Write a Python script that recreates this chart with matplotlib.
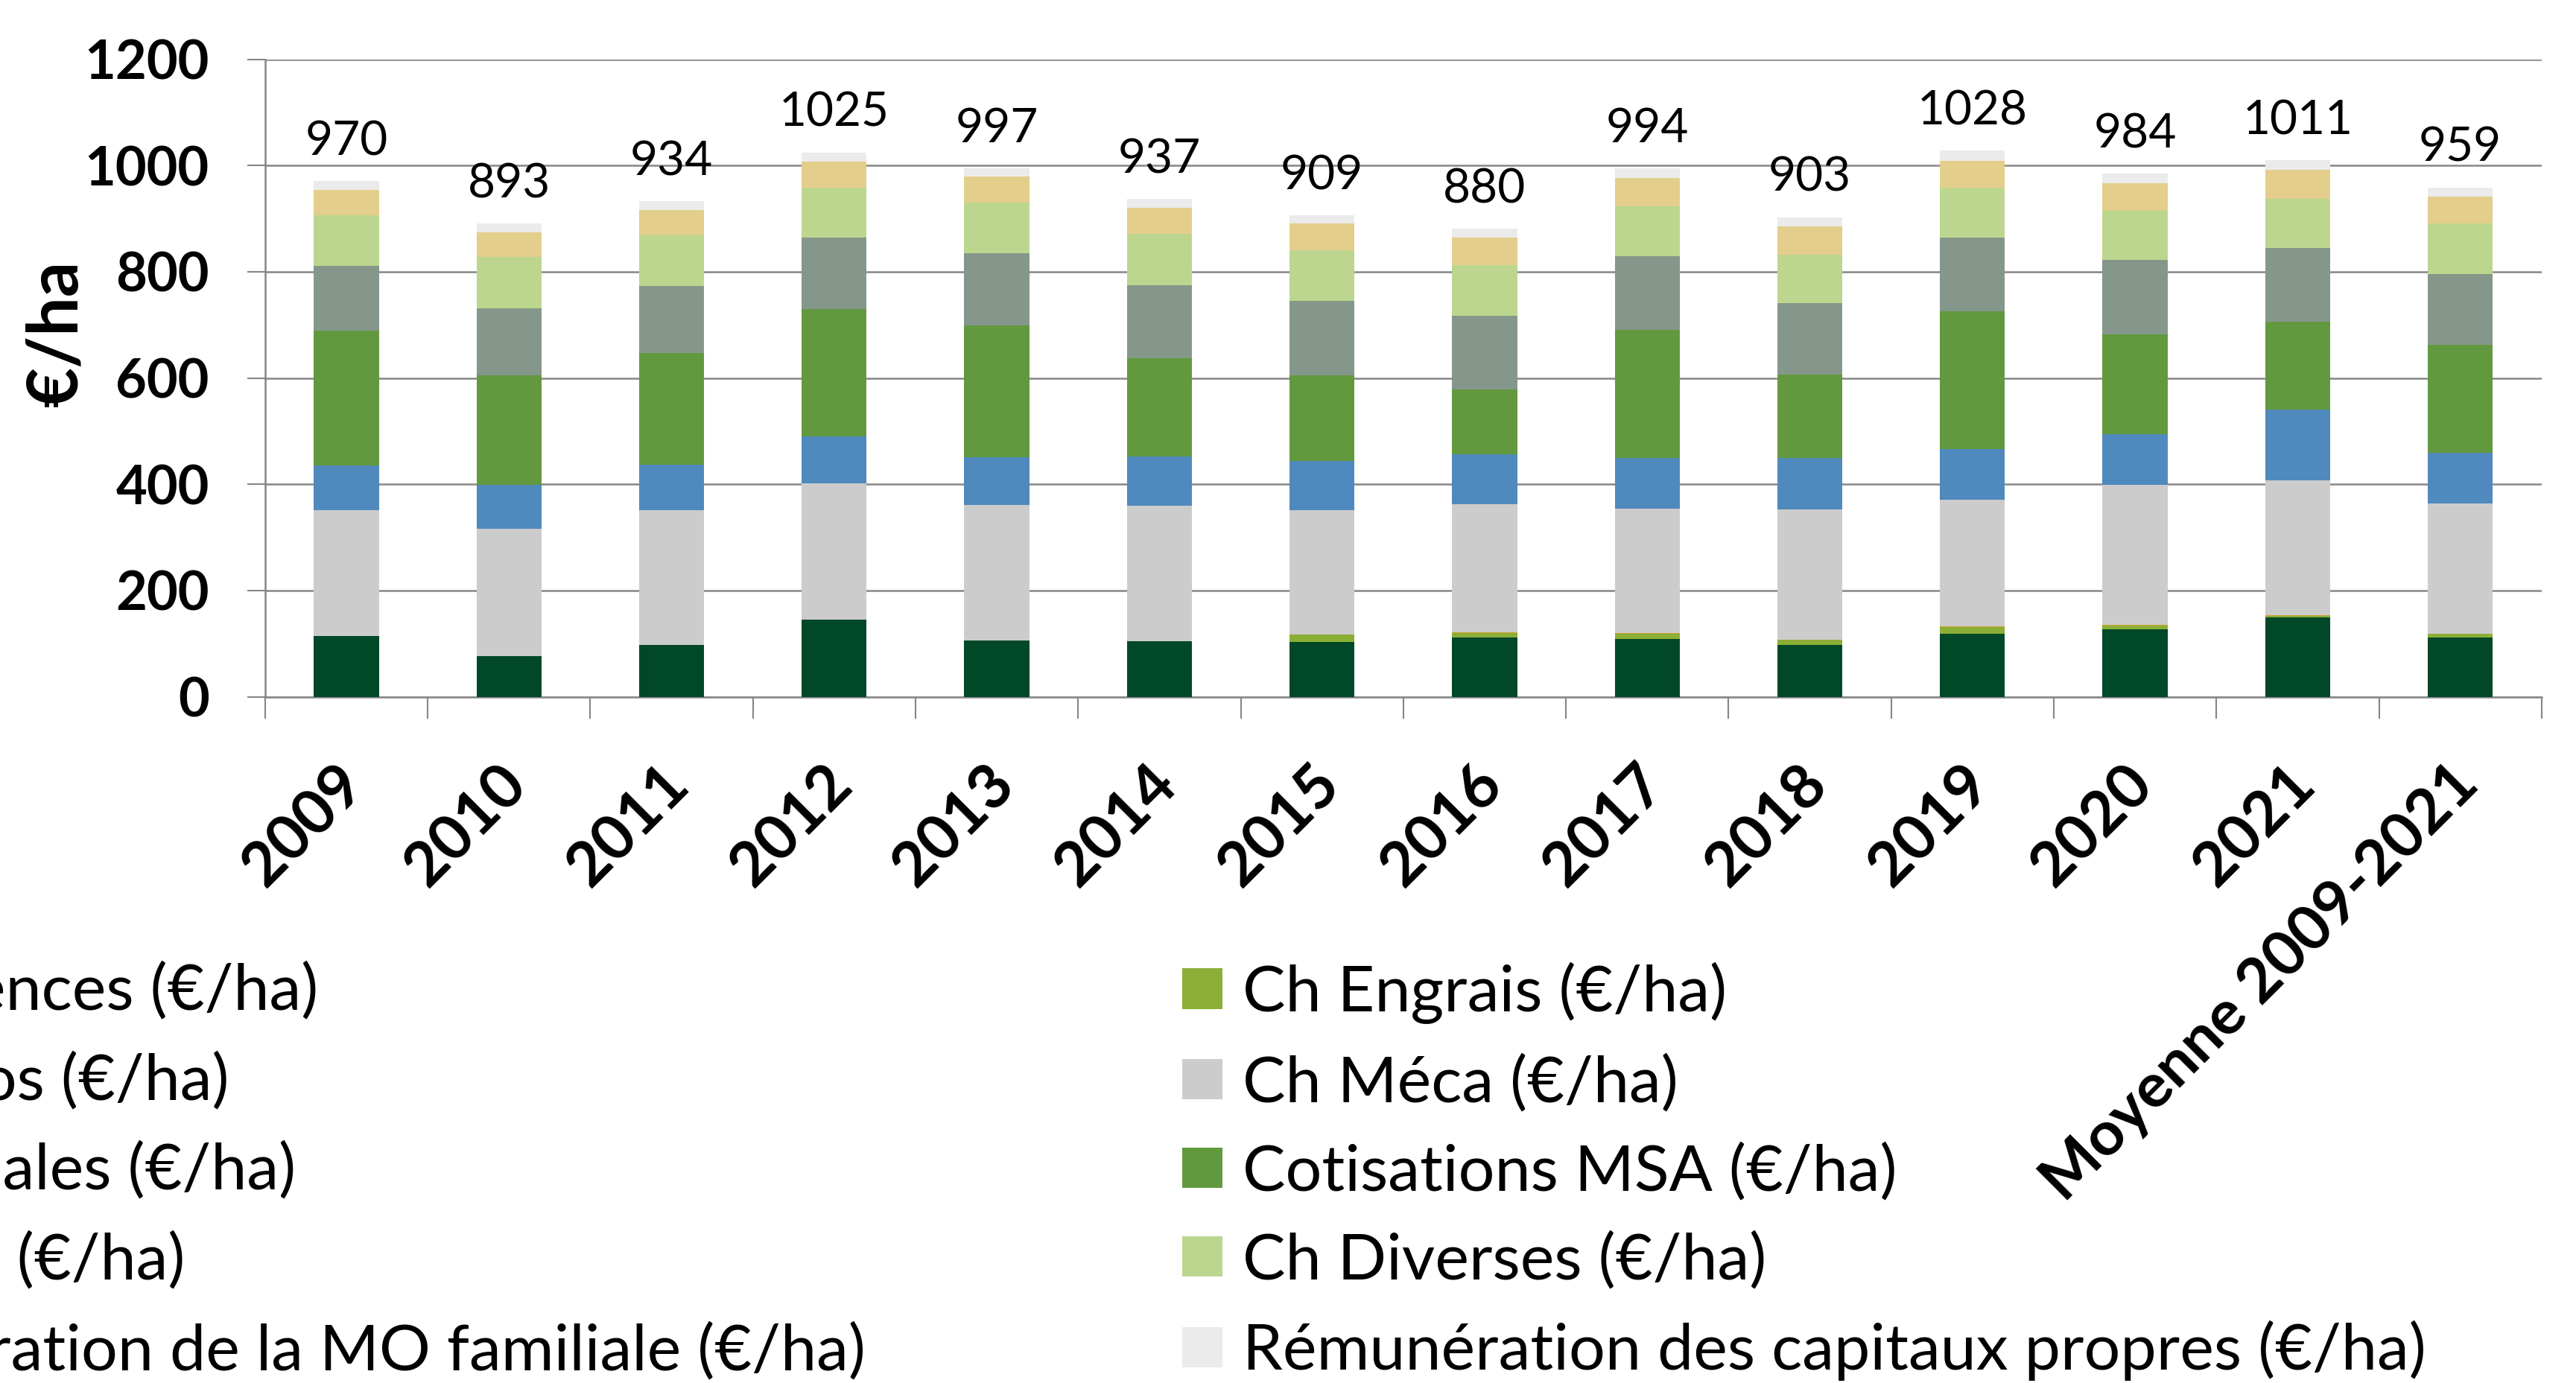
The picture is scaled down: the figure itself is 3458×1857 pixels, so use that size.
import matplotlib.pyplot as plt
import matplotlib.transforms as mtransforms
import numpy as np

plt.rcParams['font.family'] = ['Lato', 'DejaVu Sans']

# categories and series (€/ha), stacked from bottom to top
years = ['2009', '2010', '2011', '2012', '2013', '2014', '2015', '2016',
         '2017', '2018', '2019', '2020', '2021', 'Moyenne 2009-2021']
semences = [114, 76, 98, 145, 106, 105, 103, 112, 109, 97, 118, 127, 149, 112]
engrais = [0, 0, 0, 0, 0, 0, 14, 8, 9, 10, 13, 7, 3, 6]
phytos = [0, 0, 0, 0, 0, 0, 0, 2, 2, 1, 1, 1, 2, 1]
meca = [237, 240, 253, 257, 255, 255, 235, 240, 234, 245, 239, 264, 253, 245]
salariales = [84, 83, 86, 88, 90, 92, 92, 94, 96, 96, 96, 95, 134, 95]
msa = [254, 206, 210, 240, 248, 185, 161, 122, 241, 157, 258, 188, 165, 203]
fermage = [122, 126, 126, 135, 136, 138, 140, 139, 138, 135, 140, 140, 139, 134]
diverses = [96, 97, 96, 94, 95, 96, 96, 96, 95, 91, 93, 93, 93, 95]
mo_fam = [47, 46, 47, 49, 49, 49, 50, 51, 53, 53, 51, 52, 54, 50]
capitaux = [17, 17, 17, 17, 16, 17, 16, 17, 18, 18, 19, 18, 18, 18]
totals = [970, 893, 934, 1025, 997, 937, 909, 880, 994, 903, 1028, 984, 1011, 959]

series = [
    ('Ch Semences (€/ha)', semences, '#004828'),
    ('Ch Engrais (€/ha)', engrais, '#8BAE36'),
    ('Ch Phytos (€/ha)', phytos, '#C9A227'),
    ('Ch Méca (€/ha)', meca, '#CCCCCC'),
    ('Ch Salariales (€/ha)', salariales, '#4F89BD'),
    ('Cotisations MSA (€/ha)', msa, '#62993E'),
    ('Fermage (€/ha)', fermage, '#85978A'),
    ('Ch Diverses (€/ha)', diverses, '#BCD68F'),
    ('Rémunération de la MO familiale (€/ha)', mo_fam, '#E3CE8B'),
    ('Rémunération des capitaux propres (€/ha)', capitaux, '#EBEBEB'),
]

W, H = 3458, 1857
fig = plt.figure(figsize=(W / 100, H / 100), dpi=100)
ax = fig.add_axes([355.8 / W, 1 - 935.6 / H, (3411.8 - 355.8) / W, (935.6 - 79.7) / H])

x = np.arange(len(years))
bottom = np.zeros(len(years))
handles = []
for name, vals, col in series:
    b = ax.bar(x, vals, 0.4, bottom=bottom, color=col, label=name, zorder=3)
    handles.append(b)
    bottom += np.array(vals)

for i in range(len(years)):
    ax.annotate(str(totals[i]), (x[i], bottom[i]), xytext=(0, 17), textcoords='offset points',
                ha='center', va='bottom', fontsize=46)

grid_col = '#868686'
ax.set_ylim(0, 1200)
ax.set_xlim(-0.5, len(years) - 0.5)
ax.set_yticks(np.arange(0, 1201, 200))
ax.yaxis.grid(True, color=grid_col, linewidth=1.8, zorder=0)
ax.set_axisbelow(True)
for s in ['top', 'right']:
    ax.spines[s].set_visible(False)
for s in ['left', 'bottom']:
    ax.spines[s].set_color(grid_col)
    ax.spines[s].set_linewidth(1.8)

ax.tick_params(axis='y', length=17, width=1.5, color=grid_col, pad=37, labelsize=52)
for lab in ax.get_yticklabels():
    lab.set_fontweight('bold')

ax.set_xticks(x)
ax.set_xticklabels(years, rotation=45, ha='right', rotation_mode='anchor',
                   fontsize=60, fontweight='bold')
ax.set_xticks(np.arange(-0.5, len(years), 1), minor=True)
ax.tick_params(axis='x', which='major', length=0, pad=56)
ax.tick_params(axis='x', which='minor', length=21, width=1.5, color=grid_col)
nudge = mtransforms.ScaledTranslation(-0.15, 0, fig.dpi_scale_trans)
for lab in ax.get_xticklabels():
    lab.set_transform(lab.get_transform() + nudge)

fig.text(76 / W, 1 - 447 / H, '€/ha', rotation=90, ha='center', va='center',
         fontsize=67, fontweight='bold')

leg_kw = dict(frameon=False, fontsize=62, handlelength=0.63, handleheight=0.59,
              handletextpad=0.31, labelspacing=0.47, borderpad=0, borderaxespad=0,
              loc='center left')
left_h = [handles[i] for i in (0, 2, 4, 6, 8)]
right_h = [handles[i] for i in (1, 3, 5, 7, 9)]
leg_y = 1 - 1573 / H
leg_left = fig.legend(left_h, [h.get_label() for h in left_h],
                      bbox_to_anchor=(-460 / W, leg_y), **leg_kw)
fig.legend(right_h, [h.get_label() for h in right_h],
           bbox_to_anchor=(1587 / W, leg_y), **leg_kw)

# left column runs off the figure: line up the end of its last label
fig.canvas.draw()
r = fig.canvas.get_renderer()
end_x = leg_left.get_texts()[-1].get_window_extent(r).x1
shift = 1162 - end_x
leg_left.set_bbox_to_anchor(((-460 + shift) / W, leg_y), transform=fig.transFigure)

fig.savefig('out.png', dpi=100)
